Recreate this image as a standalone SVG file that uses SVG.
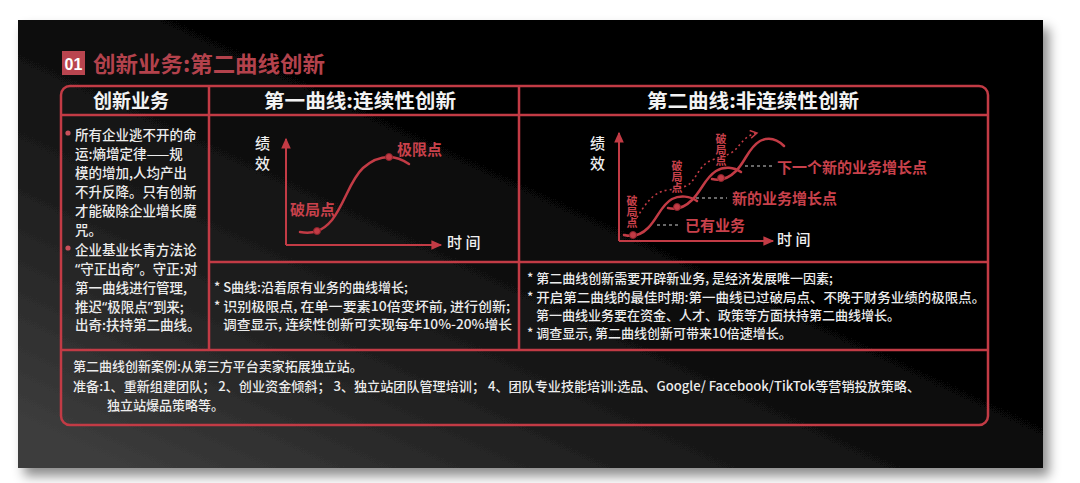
<svg xmlns="http://www.w3.org/2000/svg" width="1080" height="483" viewBox="0 0 1080 483">
<defs>
<linearGradient id="bg" x1="0" y1="0.9" x2="0.75" y2="0.2">
<stop offset="0" stop-color="#3d3d3d"/>
<stop offset="0.35" stop-color="#1f1f1f"/>
<stop offset="0.75" stop-color="#030303"/>
<stop offset="1" stop-color="#000"/>
</linearGradient>
<filter id="sh" x="-5%" y="-5%" width="115%" height="120%">
<feDropShadow dx="6" dy="8" stdDeviation="6" flood-color="#000" flood-opacity="0.45"/>
</filter>
<marker id="ah" viewBox="0 0 10 10" refX="8" refY="5" markerWidth="6" markerHeight="6" orient="auto">
<path d="M0,1 L9,5 L0,9 z" fill="#c23b45"/>
</marker>
<marker id="ahd" viewBox="0 0 10 10" refX="8" refY="5" markerWidth="6" markerHeight="6" orient="auto">
<path d="M1,1 L8,5 L1,9" fill="none" stroke="#c23b45" stroke-width="1.5"/>
</marker>
</defs>
<style>
.cjk{font-family:"Noto Sans CJK SC","Noto Sans",sans-serif}
.hd{font-family:"Noto Sans CJK SC",sans-serif;font-size:19px;font-weight:700;fill:#f2f2f2;text-anchor:middle}
.bd{font-family:"Noto Sans CJK SC",sans-serif;font-size:13.5px;fill:#ececec;font-weight:500}
.sm{font-family:"Noto Sans CJK SC",sans-serif;font-size:13px;fill:#ececec;font-weight:500}
.q{font-family:"Noto Sans",sans-serif}
.ax{font-family:"Noto Sans CJK SC",sans-serif;font-size:15px;fill:#f0f0f0;font-weight:500}
.rl{font-family:"Noto Sans CJK SC",sans-serif;font-size:15px;fill:#c8414b;font-weight:700}
.vl{font-family:"Noto Sans CJK SC",sans-serif;font-size:11px;fill:#c8414b;font-weight:700;writing-mode:vertical-rl}
.grid{fill:none;stroke:#c23b45;stroke-width:2.5}
.curve{fill:none;stroke:#c23b45;stroke-width:2.5;stroke-linecap:round}
.dot{fill:#c23b45;stroke:#8a222a;stroke-width:1}
.lead{stroke:#8a8a8a;stroke-width:1.3;stroke-dasharray:3 3}
</style>
<rect width="1080" height="483" fill="#fff"/>
<rect id="panel" x="18" y="20" width="1025" height="448" fill="url(#bg)" filter="url(#sh)"/>
<g id="title">
<rect x="62" y="51" width="23" height="24" fill="#b9454f"/>
<text x="73.5" y="69.5" font-family="Liberation Sans, sans-serif" font-size="16" font-weight="700" fill="#fff" text-anchor="middle">01</text>
<text x="93" y="72" class="cjk" font-size="22" font-weight="700" fill="#b3424c" textLength="232" lengthAdjust="spacingAndGlyphs">创新业务:第二曲线创新</text>
</g>
<g id="table">
<rect x="61" y="86" width="927" height="339" rx="9" class="grid"/>
<line x1="61" y1="115" x2="988" y2="115" class="grid"/>
<line x1="209" y1="86" x2="209" y2="350" class="grid"/>
<line x1="519" y1="86" x2="519" y2="350" class="grid"/>
<line x1="209" y1="262" x2="988" y2="262" class="grid"/>
<line x1="61" y1="350" x2="988" y2="350" class="grid"/>
</g>
<g id="header">
<text x="131" y="108" class="hd">创新业务</text>
<text x="360" y="108" class="hd" textLength="192" lengthAdjust="spacingAndGlyphs">第一曲线:连续性创新</text>
<text x="753" y="108" class="hd" textLength="212" lengthAdjust="spacingAndGlyphs">第二曲线:非连续性创新</text>
</g>
<g id="left-cell">
<circle cx="68" cy="133" r="2.6" fill="#c8505a"/>
<text class="bd" x="75" y="140">所有企业逃不开的命</text>
<text class="bd" x="75" y="159">运:熵增定律——规</text>
<text class="bd" x="75" y="178">模的增加,人均产出</text>
<text class="bd" x="75" y="197">不升反降。只有创新</text>
<text class="bd" x="75" y="216">才能破除企业增长魔</text>
<text class="bd" x="75" y="235">咒。</text>
<circle cx="68" cy="248" r="2.6" fill="#c8505a"/>
<text class="bd" x="75" y="255">企业基业长青方法论</text>
<text class="bd" x="75" y="274"><tspan class="q">“</tspan>守正出奇<tspan class="q">”</tspan>。守正:对</text>
<text class="bd" x="75" y="293">第一曲线进行管理,</text>
<text class="bd" x="75" y="312">推迟<tspan class="q">“</tspan>极限点<tspan class="q">”</tspan>到来;</text>
<text class="bd" x="75" y="330">出奇:扶持第二曲线。</text>
</g>
<g id="chart1">
<text class="ax" x="255" y="149">绩</text>
<text class="ax" x="255" y="169">效</text>
<text class="ax" x="447" y="248">时 间</text>
<text class="rl" x="290" y="215">破局点</text>
<text class="rl" x="397" y="155">极限点</text>
<path class="curve" d="M300 232 C312 234,322 232,332 220 C345 203,350 180,363 168 C372 160,381 157,389 157 C397 157,403 160,409 164"/>
<circle class="dot" cx="317" cy="231" r="3.5"/>
<circle class="dot" cx="389" cy="157" r="3.5"/>
</g>
<g id="chart2">
<text class="ax" x="590" y="149">绩</text>
<text class="ax" x="590" y="169">效</text>
<text class="ax" x="777" y="245">时 间</text>
<path class="curve" d="M624 235 C632 237,640 236,648 228 C658 218,661 205,672 199 C680 195,690 196,697 201"/>
<path class="curve" d="M668 208 C676 210,684 208,692 200 C702 190,705 178,716 171 C724 166,734 167,741 172"/>
<path class="curve" d="M712 179 C720 181,728 179,736 171 C746 161,748 148,760 141 C770 136,778 140,784 146"/>
<path d="M634 222 C645 205,652 192,668 190 C676 189,680 188,686 186 C696 182,698 165,712 160 C720 157,725 156,731 153 C740 148,742 136,757 133" fill="none" stroke="#c23b45" stroke-width="1.6" stroke-dasharray="2 3" marker-end="url(#ahd)"/>
<circle class="dot" cx="633" cy="235" r="3.5"/>
<circle class="dot" cx="677" cy="207" r="3.5"/>
<circle class="dot" cx="721" cy="178" r="3.5"/>
<text class="vl" x="632" y="195">破局点</text>
<text class="vl" x="677" y="160">破局点</text>
<text class="vl" x="721" y="133">破局点</text>
<text class="rl" x="685" y="231">已有业务</text>
<text class="rl" x="732" y="204">新的业务增长点</text>
<text class="rl" x="777" y="173">下一个新的业务增长点</text>
</g>
<g id="connectors">
<line x1="286" y1="245" x2="286" y2="139" stroke="#c23b45" stroke-width="2" marker-end="url(#ah)"/>
<line x1="286" y1="245" x2="441" y2="245" stroke="#c23b45" stroke-width="2" marker-end="url(#ah)"/>
<line x1="619" y1="241" x2="619" y2="133" stroke="#c23b45" stroke-width="2" marker-end="url(#ah)"/>
<line x1="619" y1="241" x2="773" y2="241" stroke="#c23b45" stroke-width="2" marker-end="url(#ah)"/>
<line class="lead" x1="657" y1="225" x2="680" y2="225"/>
<line class="lead" x1="696" y1="198" x2="727" y2="198"/>
<line class="lead" x1="745" y1="166" x2="772" y2="166"/>
</g>
<g id="mid-text">
<text class="sm" x="214" y="292">* S曲线:沿着原有业务的曲线增长;</text>
<text class="sm" x="214" y="311">* <tspan textLength="287" lengthAdjust="spacingAndGlyphs">识别极限点, 在单一要素10倍变坏前, 进行创新;</tspan></text>
<text class="sm" x="223" y="329" textLength="289" lengthAdjust="spacingAndGlyphs">调查显示, 连续性创新可实现每年10%-20%增长</text>
</g>
<g id="right-text">
<text class="sm" x="527" y="283">* 第二曲线创新需要开辟新业务, 是经济发展唯一因素;</text>
<text class="sm" x="527" y="302">* <tspan textLength="449" lengthAdjust="spacingAndGlyphs">开启第二曲线的最佳时期:第一曲线已过破局点、不晚于财务业绩的极限点。</tspan></text>
<text class="sm" x="536" y="320">第一曲线业务要在资金、人才、政策等方面扶持第二曲线增长。</text>
<text class="sm" x="527" y="338">* 调查显示, 第二曲线创新可带来10倍速增长。</text>
</g>
<g id="bottom-cell">
<text class="sm" x="73" y="371">第二曲线创新案例:从第三方平台卖家拓展独立站。</text>
<text class="sm" x="73" y="391" textLength="847" lengthAdjust="spacingAndGlyphs">准备:1、重新组建团队； 2、创业资金倾斜； 3、独立站团队管理培训； 4、团队专业技能培训:选品、Google/ Facebook/TikTok等营销投放策略、</text>
<text class="sm" x="107" y="410">独立站爆品策略等。</text>
</g>
</svg>
